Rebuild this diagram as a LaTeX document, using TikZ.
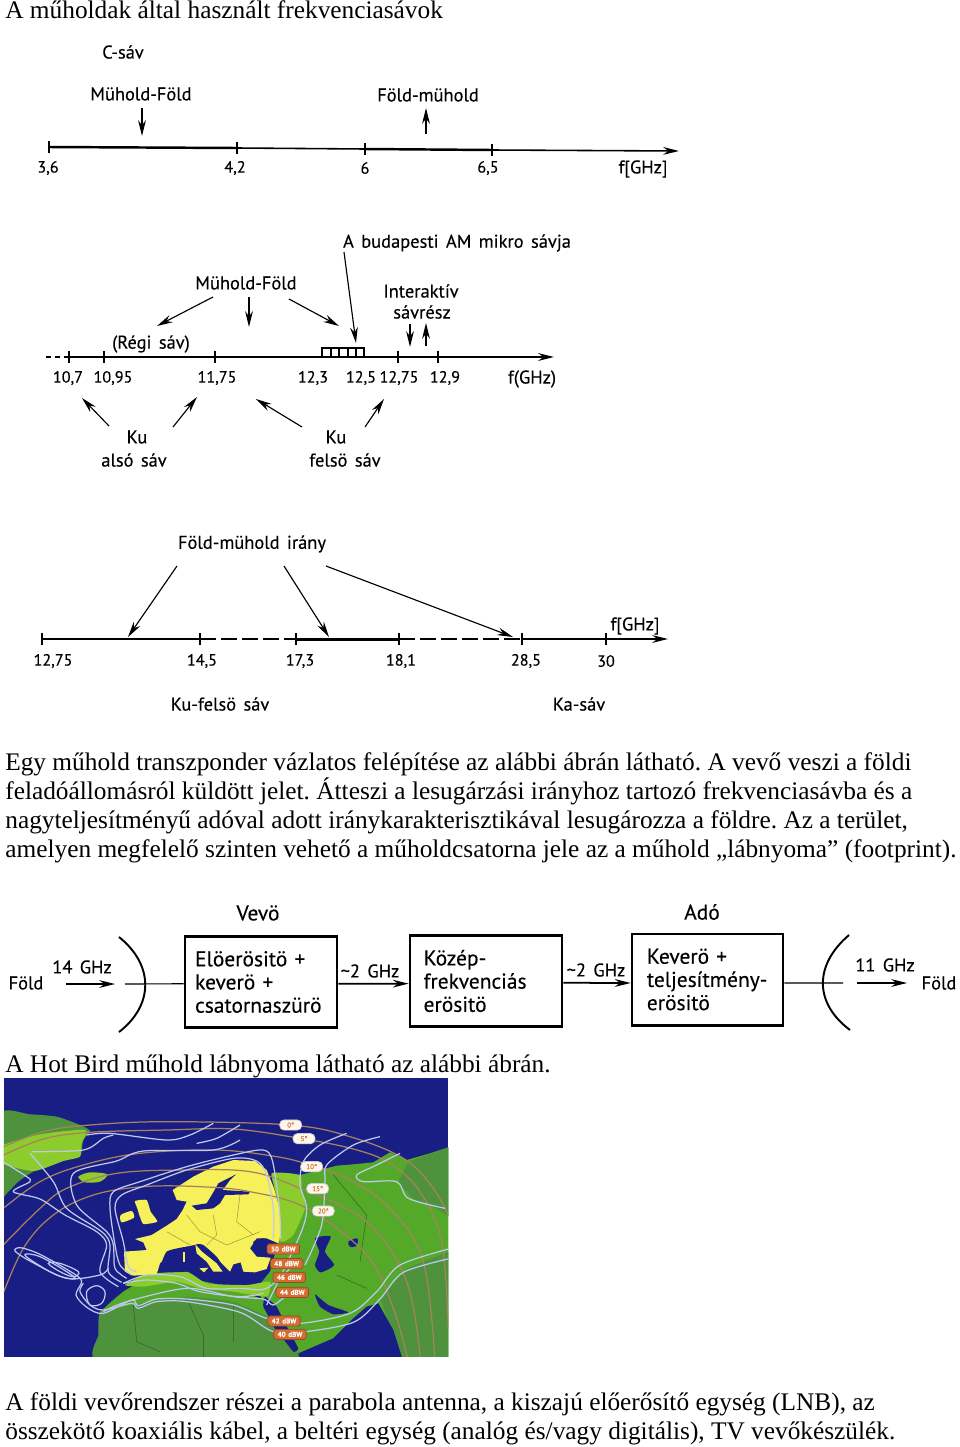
\documentclass[tikz,border=0pt]{standalone}
\usepackage{fontspec}
\setmainfont{Liberation Serif}
\newfontfamily\handfont[WordSpace=1.5, FakeBold=0.25]{PT Sans}
\usetikzlibrary{arrows.meta}
\definecolor{mapblue}{RGB}{24,30,132}
\definecolor{mapgreen}{RGB}{84,170,40}
\definecolor{maplime}{RGB}{140,205,45}
\definecolor{mapdark}{RGB}{78,146,62}
\definecolor{mapyellow}{RGB}{246,240,90}
\definecolor{maparc}{RGB}{168,130,95}
\definecolor{mapline}{RGB}{190,200,240}
\definecolor{mappill}{RGB}{214,108,50}

\begin{document}
\frenchspacing
\begin{tikzpicture}[x=0.02cm, y=-0.02cm,
    bodyline/.style={anchor=base west, inner sep=0pt, font=\fontsize{14.42}{17}\selectfont},
    hand/.style={inner sep=0pt, font=\handfont\fontsize{10.5}{12}\selectfont},
    ticklab/.style={inner sep=0pt, font=\handfont\fontsize{9.2}{11}\selectfont},
    handbig/.style={inner sep=0pt, font=\handfont\fontsize{12.2}{13.2}\selectfont},
    arr/.style={-{Stealth[length=9pt, width=4.4pt]}, line width=0.65pt},
    axisthin/.style={line width=0.9pt},
    axisthick/.style={line width=1.4pt},
    tickmark/.style={line width=0.8pt},
    blockbox/.style={draw, line width=1.5pt, align=left, handbig, minimum height=52pt},
    dish/.style={line width=1.1pt},
    arcline/.style={maparc, line width=0.7pt},
    contour/.style={mapline, line width=0.7pt},
    border/.style={line width=0.25pt},
    elevpill/.style={fill=white!92!orange, draw=gray!40, rounded corners=2.5pt, inner sep=0pt,
      minimum width=12.5pt, minimum height=5.8pt, text=brown, font=\handfont\fontsize{4}{4}\selectfont},
    dbwpill/.style={fill=mappill, draw=mappill!70!black, rounded corners=1.5pt, inner sep=0pt,
      minimum width=18.5pt, minimum height=5.8pt, text=white, font=\handfont\bfseries\fontsize{4}{4}\selectfont}]
  \path[use as bounding box] (0,0) rectangle (960,1447);

  % body text
  \node[bodyline] (title) at (5,18) {A műholdak által használt frekvenciasávok};
  \node[bodyline] (parta) at (5,770) {Egy műhold transzponder vázlatos felépítése az alábbi ábrán látható. A vevő veszi a földi};
  \node[bodyline] (partb) at (5,799) {feladóállomásról küldött jelet. Átteszi a lesugárzási irányhoz tartozó frekvenciasávba és a};
  \node[bodyline] (partc) at (5,828) {nagyteljesítményű adóval adott iránykarakterisztikával lesugározza a földre. Az a terület,};
  \node[bodyline] (partd) at (5,857) {amelyen megfelelő szinten vehető a műholdcsatorna jele az a műhold „lábnyoma” (footprint).};
  \node[bodyline] (hotbird) at (5,1072) {A Hot Bird műhold lábnyoma látható az alábbi ábrán.};
  \node[bodyline] (parte) at (5,1410) {A földi vevőrendszer részei a parabola antenna, a kiszajú előerősítő egység (LNB), az};
  \node[bodyline] (partf) at (5,1439) {összekötő koaxiális kábel, a beltéri egység (analóg és/vagy digitális), TV vevőkészülék.};

  % C band
  \node[hand] (csav) at (123,52) {C-sáv};
  \node[hand] (cdown) at (141,94) {Mühold-Föld};
  \node[hand] (cup) at (428,95) {Föld-mühold};
  \coordinate (ca) at (49,147);
  \coordinate (cb) at (237,148);
  \coordinate (cc) at (365,149);
  \coordinate (cd) at (492,150);
  \coordinate (ce) at (679,151);
  \draw[axisthick] (ca) -- (cb);
  \draw[axisthin] (cb) -- (cc);
  \draw[axisthick] (cc) -- (cd);
  \draw[arr, axisthin] (cd) -- (ce);
  \foreach \pos in {ca,cb,cc,cd}
    \draw[tickmark] ([yshift=-3.2pt]\pos) -- ([yshift=3.2pt]\pos);
  \foreach \nm/\xx/\txt in {la/48/{3,6}, lb/235/{4,2}, lc/365/6, ld/488/{6,5}}
    \node[ticklab] (c\nm) at (\xx,168) {\txt};
  \node[hand] (cle) at (643,169) {f[GHz]};

  % Ku band
  \node[hand] (kuab) at (457,243) {A budapesti AM mikro sávja};
  \node[hand] (kumf) at (246,283) {Mühold-Föld};
  \node[hand] (kuia) at (421,291) {Interaktív};
  \node[hand] (kuib) at (422,312) {sávrész};
  \node[hand] (kure) at (151,344) {(Régi sáv)};
  \coordinate (ka) at (46,357);
  \coordinate (kb) at (69,357);
  \coordinate (kc) at (554,357);
  \draw[axisthin, densely dashed] (ka) -- (kb);
  \draw[arr, line width=1.1pt] (kb) -- (kc);
  \foreach \xx in {69,104,215,398,438}
    \draw[tickmark] (\xx,351) -- (\xx,363);
  \draw[line width=1pt] (322,357) |- (364,348) -- (364,357);
  \foreach \xx in {331,339,348,356}
    \draw[line width=0.6pt] (\xx,348) -- (\xx,357);
  \foreach \nm/\xx/\txt in {a/68/{10,7}, b/113/{10,95}, c/217/{11,75}, d/313/{12,3}, e/361/{12,5}, f/399/{12,75}, g/445/{12,9}}
    \node[ticklab] (kl\nm) at (\xx,378) {\txt};
  \node[hand] (klh) at (532,379) {f(GHz)};
  \node[hand] (kua) at (137,437) {Ku};
  \node[hand] (kub) at (134,460) {alsó sáv};
  \node[hand] (kuc) at (336,437) {Ku};
  \node[hand] (kud) at (345,460) {felsö sáv};

  % Ka band
  \node[hand] (kairany) at (252,544) {Föld-mühold irány};
  \node[hand] (kaf) at (635,626) {f[GHz]};
  \coordinate (ta) at (42,639);
  \coordinate (tb) at (200,639);
  \coordinate (tc) at (296,639);
  \coordinate (td) at (399,639);
  \coordinate (te) at (522,639);
  \coordinate (tf) at (606,639);
  \coordinate (tg) at (668,639);
  \draw[axisthick] (ta) -- (tb);
  \draw[axisthin, dash pattern=on 9pt off 3pt] (tb) -- (tc);
  \draw[axisthick, line width=1.7pt] (tc) -- (td);
  \draw[axisthin, dash pattern=on 9pt off 3pt] (td) -- (te);
  \draw[axisthick] (te) -- (tf);
  \draw[arr, axisthin] (tf) -- (tg);
  \foreach \pos in {ta,tb,tc,td,te,tf}
    \draw[tickmark] ([yshift=-3.2pt]\pos) -- ([yshift=3.2pt]\pos);
  \foreach \nm/\xx/\txt in {a/53/{12,75}, b/202/{14,5}, c/300/{17,3}, d/401/{18,1}, e/526/{28,5}, f/606/30}
    \node[ticklab] (tl\nm) at (\xx,661) {\txt};
  \node[hand] (kafel) at (220,704) {Ku-felsö sáv};
  \node[hand] (kasav) at (579,704) {Ka-sáv};

  % all slanted and short arrows
  \foreach \i/\xa/\ya/\xb/\yb in {1/142/108/142/136, 2/426/134/426/108,
      3/213/297/157/326, 4/249/297/249/327, 5/289/299/339/326, 6/344/252/356/343,
      7/410/324/410/347, 8/426/346/426/323,
      9/109/426/82/398, 10/173/427/197/397, 11/302/427/256/399, 12/365/427/384/399,
      13/177/566/128/637, 14/284/566/329/637, 15/326/566/513/637} {
    \coordinate (s\i) at (\xa,\ya);
    \coordinate (t\i) at (\xb,\yb);
    \draw[arr] (s\i) -- (t\i);
  }

  % transponder
  \node[handbig] (vevo) at (258,913) {Vevö};
  \node[handbig] (ado) at (702,912) {Adó};
  \node[blockbox, minimum width=86.5pt, text width=75pt] (elo) at (261,982)
    {Elöerösitö +\\keverö +\\csatornaszürö};
  \node[blockbox, minimum width=86.5pt, text width=71pt] (koz) at (486,981)
    {Közép-\\frekvenciás\\erösitö};
  \node[blockbox, minimum width=86pt, text width=69pt] (kev) at (707.5,979.5)
    {Keverö +\\teljesítmény-\\erösitö};
  \node[hand] (foldl) at (26,983) {Föld};
  \node[hand] (foldr) at (939,983) {Föld};
  \node[hand] (ghzl) at (82,967) {14 GHz};
  \node[hand] (ghzr) at (885,965) {11 GHz};
  \node[hand] (ghza) at (370,971) {\textasciitilde 2 GHz};
  \node[hand] (ghzb) at (596,970) {\textasciitilde 2 GHz};
  \coordinate (ina) at (66,984);
  \coordinate (inb) at (115,984);
  \coordinate (feedl) at (125,984);
  \coordinate (feedr) at (843,983);
  \coordinate (outa) at (857,983);
  \coordinate (outb) at (907,983);
  \draw[dish] (119,937) .. controls (154,965) and (154,1005) .. (119,1032);
  \draw[dish] (849,935) .. controls (814,965) and (814,1003) .. (850,1030);
  \draw[arr] (ina) -- (inb);
  \draw[line width=0.65pt] (feedl) -- ([yshift=-1pt]elo.west);
  \draw[arr, line width=1pt] ([yshift=-1pt]elo.east) -- ([yshift=-1.5pt]koz.west);
  \draw[arr, line width=1pt] ([yshift=-1pt]koz.east) -- ([yshift=-2pt]kev.west);
  \draw[line width=0.65pt] ([yshift=-2pt]kev.east) -- (feedr);
  \draw[arr] (outa) -- (outb);

  % footprint map
  \begin{scope}[shift={(0,1075)}, scale=0.33333]
    \clip (12,10) rectangle (1345,845);
    \fill[mapblue] (12,10) rectangle (1345,845);
    % greenland, iceland
    \fill[mapdark] plot[smooth cycle, tension=0.4] coordinates {(0,118) (90,118) (170,125) (240,150) (270,168)
      (250,195) (240,240) (190,255) (100,290) (55,320) (25,350) (0,360)};
    \fill[maplime] plot[smooth cycle, tension=0.4] coordinates {(0,215) (120,178) (255,165) (245,205) (240,245)
      (190,258) (100,288) (0,262)};
    \fill[maplime] plot[smooth cycle, tension=0.5] coordinates {(235,305) (270,292) (322,298) (300,320) (255,322)};
    % asia
    \fill[mapgreen] (820,300) -- (900,300) -- (960,285) -- (1010,272) -- (1060,268) -- (1120,262)
      -- (1170,232) -- (1220,255) -- (1290,235) -- (1360,212) -- (1360,860) -- (880,860) -- (840,760)
      -- (790,680) -- (770,640) -- (810,590) -- (835,500) -- cycle;
    \fill[mapdark] (1225,260) -- (1290,238) -- (1360,212) -- (1360,430) -- (1290,390) -- (1240,372) -- (1195,322) -- cycle;
    \fill[mapdark] (1140,670) -- (1220,580) -- (1360,525) -- (1360,860) -- (1210,860) -- cycle;
    \fill[maplime] plot[smooth cycle, tension=0.3] coordinates {(815,295) (900,300) (905,340) (915,400) (880,480) (850,500) (835,490) (835,380)};
    % africa
    \fill[mapdark] plot[smooth cycle, tension=0.3] coordinates {(300,860) (295,780) (300,710) (370,670) (500,650) (620,650) (770,680) (830,770) (890,860)};
    \fill[mapgreen] plot[smooth cycle, tension=0.3] coordinates {(310,705) (370,650) (420,625) (560,610) (700,640) (800,680) (820,730) (700,680) (560,665) (420,685)};
    \fill[maplime] plot[smooth cycle, tension=0.3] coordinates {(375,630) (440,598) (560,590) (620,625) (740,630) (810,620) (800,665) (700,650) (600,640) (530,620) (430,635)};
    % europe
    \fill[mapyellow] (518,345) -- (580,305) -- (640,275) -- (700,255) -- (765,258) -- (800,285)
      -- (822,340) -- (838,400) -- (842,470) -- (835,505) -- (800,490) -- (770,490) -- (750,520) -- (770,545) -- (812,548)
      -- (800,582) -- (765,592) -- (730,590) -- (722,562) -- (700,568) -- (690,590) -- (660,560) -- (620,525) -- (590,508)
      -- (560,515) -- (520,525) -- (480,565) -- (470,598) -- (400,602) -- (375,590)
      -- (372,530) -- (440,525) -- (430,502) -- (405,492) -- (455,480) -- (500,452) -- (530,432) -- (548,405) -- (560,380) -- (530,375) -- cycle;
    \fill[mapyellow] plot[smooth cycle, tension=0.3] coordinates {(405,378) (440,375) (452,410) (472,440) (430,447) (418,420) (412,400)};
    \fill[mapyellow] plot[smooth cycle, tension=0.4] coordinates {(362,420) (395,408) (402,428) (365,442)};
    % european seas
    \fill[mapblue] (575,392) -- (620,385) -- (640,352) -- (655,325) -- (708,298) -- (690,315) -- (668,345) -- (750,350) -- (745,358)
      -- (675,360) -- (660,385) -- (640,400) -- (590,405) -- cycle;
    \fill[mapblue] plot[smooth cycle, tension=0.3] coordinates {(760,500) (790,490) (830,505) (832,530) (800,545) (770,535)};
    \fill[mapblue] plot[smooth cycle, tension=0.3] coordinates {(500,530) (560,515) (590,520) (620,570) (600,590) (560,590) (480,590)};
    \fill[mapblue] plot[smooth cycle, tension=0.3] coordinates {(590,508) (610,510) (650,545) (668,575) (640,558) (610,530)};
    \fill[mapyellow] (586,508) -- (606,530) -- (650,565) -- (668,590) -- (640,590) -- (620,560) -- (590,535) -- cycle;
    \fill[mapyellow] (548,532) rectangle (556,560);
    \fill[mapyellow] (598,580) -- (625,578) -- (612,592) -- cycle;
    % asian seas
    \fill[mapblue] plot[smooth cycle, tension=0.4] coordinates {(945,490) (992,484) (975,530) (1002,570) (962,592) (945,570) (958,530)};
    \fill[mapblue] plot[smooth cycle, tension=0.5] coordinates {(1045,500) (1072,490) (1070,512) (1050,515)};
    \fill[mapblue] plot[smooth cycle, tension=0.3] coordinates {(945,658) (985,690) (1045,712) (1000,718) (960,695)};
    \fill[mapblue] plot[smooth cycle, tension=0.2] coordinates {(795,665) (830,695) (855,745) (895,820) (880,830) (830,765) (790,695)};
    \fill[mapblue] (895,835) -- (1000,790) -- (1060,730) -- (1100,695) -- (1135,685) -- (1180,765) -- (1210,860) -- (900,860) -- cycle;
    % borders
    \draw[border, mapyellow!60!black] (560,420) -- (600,470) -- (680,510) -- (780,470)
      (640,420) -- (650,480) -- (620,510) (720,360) -- (710,440) -- (760,480) (500,470) -- (570,510);
    \draw[border, mapdark!60!black] (400,690) -- (410,800) -- (480,830) (560,670) -- (610,780) -- (610,860) (700,690) -- (700,800)
      (1000,300) -- (1100,420) -- (1080,560) (1010,600) -- (1100,640);
    % elevation arcs
    \foreach \arcpts in {{(0,220) (130,170) (270,150) (500,140) (870,150) (1050,185) (1210,250) (1300,340) (1360,450)},
        {(0,245) (130,192) (270,172) (500,165) (700,162) (900,190) (1060,222) (1170,265) (1260,350) (1325,500) (1345,760)},
        {(0,408) (120,320) (250,270) (420,235) (650,225) (830,245) (930,270) (1040,310) (1170,400) (1270,560) (1305,860)},
        {(0,520) (120,400) (200,340) (350,295) (550,285) (750,290) (900,340) (1100,440) (1220,620) (1262,860)},
        {(0,680) (70,520) (160,420) (280,360) (430,335) (600,335) (750,350) (920,400) (1100,540) (1180,700) (1225,860)}}
      \draw[arcline] plot[smooth, tension=0.6] coordinates \arcpts;
    % power contours
    \foreach \pts in {{(1360,518) (1200,570) (1130,650) (1050,715) (900,745) (800,730) (700,690) (560,672) (470,672) (415,692) (395,675) (310,715) (262,698) (228,660) (245,618) (212,590) (120,538) (62,518) (45,528) (90,558) (200,610) (300,600) (325,580)},
        {(1360,548) (1210,592) (1140,672) (1060,742) (900,772) (815,768) (720,712) (560,680) (470,680) (415,700) (395,685) (310,705) (270,690) (240,650) (250,625)},
        {(310,710) (380,680) (560,640) (700,665) (790,672) (820,690) (860,660)},
        {(370,625) (440,615) (530,625) (600,650) (720,665) (790,655)},
        {(370,625) (440,600) (540,605) (620,640) (720,640) (800,640) (880,570)},
        {(355,635) (300,590) (320,510) (290,470) (195,420) (120,372) (40,350) (90,320) (80,305) (12,262)},
        {(365,622) (325,590) (330,510) (305,470) (200,400) (160,320) (90,235)},
        {(380,610) (345,580) (340,510) (320,470) (230,390) (220,295) (350,258) (430,228) (640,225) (720,195)},
        {(395,600) (360,570) (345,510) (330,400) (340,350) (420,320) (560,275) (700,240) (790,225) (818,260) (838,400) (842,490)},
        {(410,590) (385,575) (370,500) (345,400) (365,360) (440,330) (560,285) (700,250) (770,258) (800,300) (820,400) (820,490)},
        {(800,690) (900,480) (920,400) (900,330) (910,260) (960,210) (1040,175)},
        {(915,570) (965,450) (975,320) (980,270) (1060,210) (1140,185)},
        {(260,180) (330,175) (500,195) (570,180) (640,145)},
        {(95,230) (250,225) (310,190) (340,180)},
        {(590,205) (650,190) (720,150)},
        {(1200,235) (1130,270) (1070,300) (1090,320) (1190,320) (1225,370) (1335,400)}}
      \draw[contour] plot[smooth, tension=0.5] coordinates \pts;
    \draw[contour] plot[smooth cycle, tension=0.6] coordinates {(260,650) (290,632) (315,650) (305,685) (270,690)};
    \draw[contour] plot[smooth cycle, tension=0.6] coordinates {(145,565) (180,565) (235,590) (220,605) (180,590)};
    \draw[contour] plot[smooth cycle, tension=0.6] coordinates {(75,538) (120,545) (200,590) (225,612) (170,600) (100,560)};
    % labels
    \foreach \nm/\xx/\yy/\txt in {a/872/150/{0°}, b/912/191/{5°}, c/935/275/{10°}, d/953/341/{15°}, e/970/408/{20°}}
      \node[elevpill] (elev\nm) at (\xx,\yy) {\txt};
    \foreach \nm/\xx/\yy/\txt in {a/850/522/{50 dBW}, b/860/566/{48 dBW}, c/868/607/{46 dBW}, d/877/652/{44 dBW}, e/852/738/{42 dBW}, f/870/778/{40 dBW}}
      \node[dbwpill] (dbw\nm) at (\xx,\yy) {\txt};
  \end{scope}
\end{tikzpicture}
\end{document}
